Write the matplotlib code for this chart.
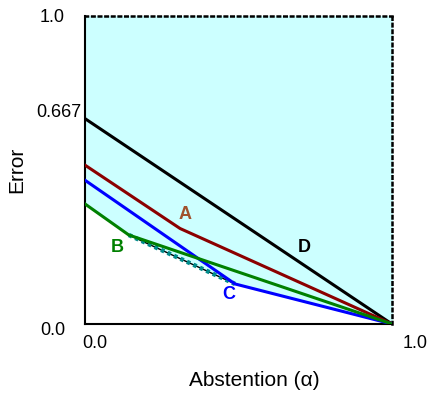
import numpy as np
import matplotlib
matplotlib.use('Agg')
import matplotlib.pyplot as plt

plt.rcParams['font.family'] = ['Liberation Sans', 'DejaVu Sans']

# abstention / error curves (x, y)
a_x = [0.0, 0.31, 1.0]
a_y = [0.516, 0.31, 0.0]
b_x = [0.0, 0.143, 1.0]
b_y = [0.39, 0.289, 0.0]
c_x = [0.0, 0.489, 1.0]
c_y = [0.467, 0.13, 0.0]
d_x = [0.0, 1.0]
d_y = [0.667, 0.0]

# lower hull: B start, B knee, C knee, end
hull_x = [0.0, 0.143, 0.489, 1.0]
hull_y = [0.39, 0.289, 0.13, 0.0]

fig = plt.figure(figsize=(4.31, 3.94), dpi=100, facecolor='white')
ax = fig.add_axes([0.197, 0.1777, 0.7123, 0.7817])

ax.fill_between(hull_x, hull_y, 1.0, color='#ccffff', zorder=0)

ax.plot(d_x, d_y, color='black', lw=2.2, zorder=3)
ax.plot(a_x, a_y, color='#8b0000', lw=2.2, zorder=3)
ax.plot(c_x, c_y, color='#0000ff', lw=2.2, zorder=3)
ax.plot(b_x, b_y, color='#008000', lw=2.2, zorder=3)
ax.plot(hull_x[1:3], hull_y[1:3], color='black', lw=1.0, zorder=2)
ax.plot(hull_x[1:3], hull_y[1:3], color='#008b8b', lw=3.2, ls=(0, (0.8, 0.8)), zorder=2)

ax.text(0.325, 0.355, 'A', color='#a0522d', fontsize=13, fontweight='bold', ha='center', va='center')
ax.text(0.105, 0.248, 'B', color='#008000', fontsize=13, fontweight='bold', ha='center', va='center')
ax.text(0.468, 0.095, 'C', color='#0000ff', fontsize=13, fontweight='bold', ha='center', va='center')
ax.text(0.716, 0.248, 'D', color='black', fontsize=13, fontweight='bold', ha='center', va='center')

ax.set_xlim(0, 1)
ax.set_ylim(0, 1)
ax.set_xticks([])
ax.set_yticks([])

for s in ['top', 'right']:
    ax.spines[s].set_linestyle(':')
    ax.spines[s].set_linewidth(1.8)
for s in ['left', 'bottom']:
    ax.spines[s].set_linewidth(1.5)

# tick labels
ax.text(-0.065, 0.995, '1.0', fontsize=13, ha='right', va='center', transform=ax.transAxes)
ax.text(-0.01, 0.688, '0.667', fontsize=13, ha='right', va='center', transform=ax.transAxes)
ax.text(-0.065, -0.02, '0.0', fontsize=13, ha='right', va='center', transform=ax.transAxes)
ax.text(-0.01, -0.035, '0.0', fontsize=13, ha='left', va='top', transform=ax.transAxes)
ax.text(1.035, -0.035, '1.0', fontsize=13, ha='left', va='top', transform=ax.transAxes)

fig.text(0.59, 0.033, 'Abstention (\u03b1)', fontsize=15, ha='center', va='center')
fig.text(0.04, 0.57, 'Error', fontsize=15, ha='center', va='center', rotation=90)

fig.savefig('out.png', dpi=100)
